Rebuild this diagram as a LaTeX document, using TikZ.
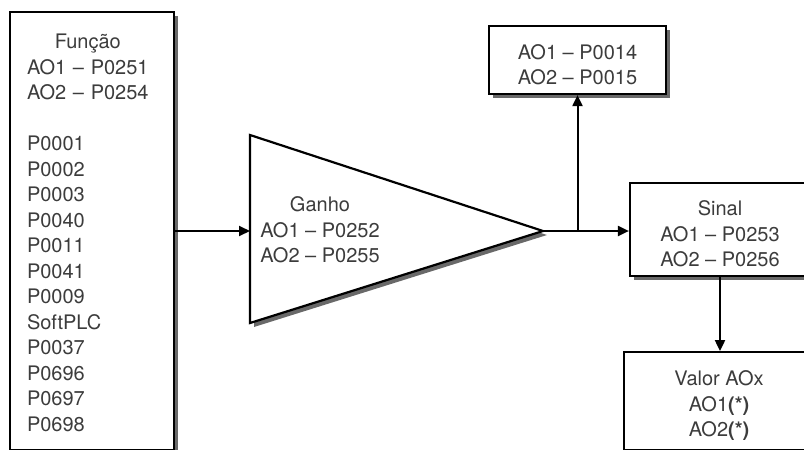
\documentclass[tikz,border=0pt]{standalone}
\usepackage{fontspec}
\setmainfont{TeX Gyre Heros}
\usepackage{tikz}
\usetikzlibrary{arrows.meta,positioning,shadows}
\definecolor{inkgray}{RGB}{60,60,60}
\definecolor{shadowgray}{RGB}{105,105,105}
\newcommand{\topgap}{\rule{0pt}{12pt}}

\begin{document}
\begin{tikzpicture}[
  x=0.5pt, y=-0.5pt,
  every node/.style={font=\fontsize{10}{12.75}\selectfont, text=inkgray},
  castshadow/.style={drop shadow={shadow xshift=2pt, shadow yshift=-2pt,
    fill=shadowgray, opacity=1}},
  box/.style={draw=black, line width=1.1pt, fill=white, inner sep=0pt,
    align=center, castshadow},
  flow/.style={-{Triangle[length=5.5pt,width=5pt]}, line width=1pt}
]
\useasboundingbox (0,0) rectangle (804,450);

\node[box, minimum width=82pt, minimum height=219pt, text width=65pt,
  align=left] (funcao) at (92,231) {%
  \begin{tabular}{@{}l@{}}
  \multicolumn{1}{@{}c@{}}{\rule{0pt}{13pt}Função}\\
  AO1 – P0251\\
  AO2 – P0254\\
  \\
  P0001\\ P0002\\ P0003\\ P0040\\ P0011\\ P0041\\ P0009\\
  SoftPLC\\ P0037\\ P0696\\ P0697\\ P0698
  \end{tabular}};

\draw[line width=1.1pt, fill=white, castshadow]
  (250,135) coordinate (gtop) -- (543,231) coordinate (apex)
  -- (250,323) coordinate (gbot) -- cycle;
\coordinate (gin) at (250,231);
\node[align=center] (ganho) at (320,230) {Ganho\\AO1 – P0252\\AO2 – P0255};

\node[box, minimum width=88.5pt, minimum height=34pt] (leitura) at (577.5,60)
  {\topgap AO1 – P0014\\AO2 – P0015};
\node[box, minimum width=90pt, minimum height=46.5pt] (sinal) at (720,229.5)
  {\topgap Sinal\\AO1 – P0253\\AO2 – P0256};
\node[box, below=37pt of sinal, xshift=-0.5pt, minimum width=95pt,
  minimum height=49pt] (valor)
  {\topgap Valor AOx\\AO1\textbf{(*)}\\AO2\textbf{(*)}};

\draw[flow] (funcao.east |- gin) -- (gin);
\draw[flow] (apex) -- (apex -| sinal.west);
\draw[flow] (leitura.south |- apex) -- (leitura.south);
\draw[flow] (sinal.south) -- (sinal.south |- valor.north);
\end{tikzpicture}
\end{document}
